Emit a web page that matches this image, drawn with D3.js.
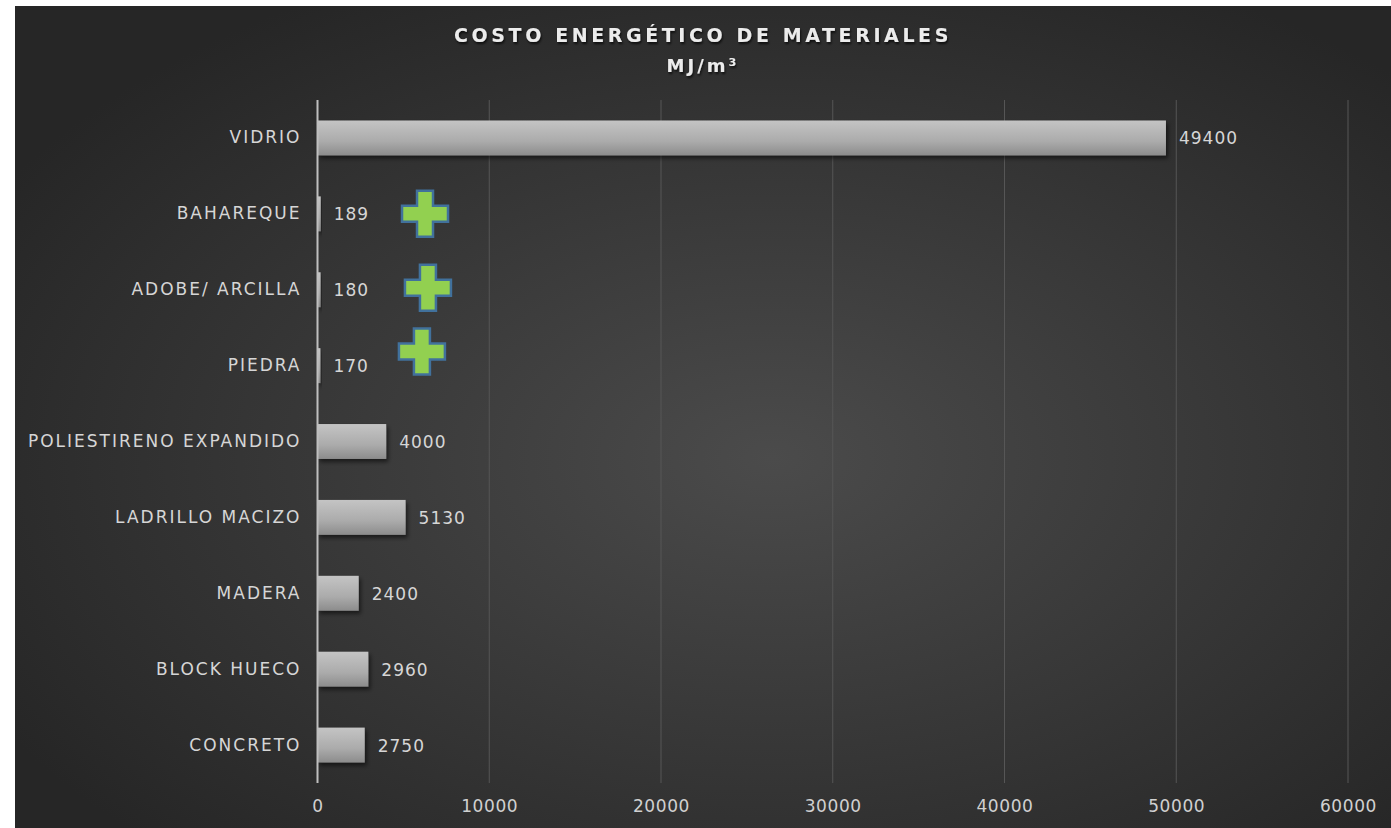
<!DOCTYPE html>
<html>
<head>
<meta charset="utf-8">
<script src="https://cdn.jsdelivr.net/npm/d3@7/dist/d3.min.js"></script>
<style>
  html, body { margin: 0; padding: 0; background: #ffffff; }
  svg { display: block; }
  text { font-family: "DejaVu Sans", "Noto Sans", sans-serif; }
</style>
</head>
<body>
<svg id="chart" width="1391" height="828"></svg>
<script>
// Categories (top to bottom) and embodied energy values in MJ/m³
const categories = ["VIDRIO", "BAHAREQUE", "ADOBE/ ARCILLA", "PIEDRA", "POLIESTIRENO EXPANDIDO",
                    "LADRILLO MACIZO", "MADERA", "BLOCK HUECO", "CONCRETO"];
const values = [49400, 189, 180, 170, 4000, 5130, 2400, 2960, 2750];
const tickValues = [0, 10000, 20000, 30000, 40000, 50000, 60000];
// Highlighted low-energy materials, marked with a plus sign at the given x value
const highlighted = ["BAHAREQUE", "ADOBE/ ARCILLA", "PIEDRA"];
const highlightX = [6260, 6430, 6080];

const svg = d3.select("#chart");
const W = 1391, H = 828;

const defs = svg.append("defs");
const bg = defs.append("radialGradient").attr("id", "bg")
  .attr("cx", "55%").attr("cy", "55%").attr("r", "65%");
bg.append("stop").attr("offset", "0%").attr("stop-color", "#4b4b4b");
bg.append("stop").attr("offset", "100%").attr("stop-color", "#262626");

const barGrad = defs.append("linearGradient").attr("id", "bar")
  .attr("x1", 0).attr("y1", 0).attr("x2", 0).attr("y2", 1);
barGrad.append("stop").attr("offset", "0%").attr("stop-color", "#c4c4c4");
barGrad.append("stop").attr("offset", "60%").attr("stop-color", "#ababab");
barGrad.append("stop").attr("offset", "100%").attr("stop-color", "#8c8c8c");

const shadow = defs.append("filter").attr("id", "shadow")
  .attr("x", "-10%").attr("y", "-30%").attr("width", "130%").attr("height", "180%");
shadow.append("feDropShadow").attr("dx", 2).attr("dy", 3).attr("stdDeviation", 2)
  .attr("flood-color", "#000").attr("flood-opacity", 0.55);

const textShadow = defs.append("filter").attr("id", "tshadow")
  .attr("x", "-5%").attr("y", "-30%").attr("width", "110%").attr("height", "170%");
textShadow.append("feDropShadow").attr("dx", 1).attr("dy", 2).attr("stdDeviation", 1.2)
  .attr("flood-color", "#000").attr("flood-opacity", 0.7);

// Chart background
svg.append("rect").attr("x", 15).attr("y", 6).attr("width", W - 15).attr("height", H - 6)
  .attr("fill", "url(#bg)");

const margin = { left: 317.5, right: 1348, top: 100, bottom: 783 };

const x = d3.scaleLinear().domain([0, 60000]).range([margin.left, margin.right]);
const y = d3.scaleBand().domain(categories).range([margin.top, margin.bottom]).paddingInner(0.54).paddingOuter(0.27);

// Vertical gridlines
svg.append("g").selectAll("line").data(tickValues.slice(1)).join("line")
  .attr("x1", d => x(d)).attr("x2", d => x(d))
  .attr("y1", margin.top).attr("y2", margin.bottom)
  .attr("stroke", "#565656").attr("stroke-width", 1);

// Bars
svg.append("g").selectAll("rect").data(categories).join("rect")
  .attr("x", x(0))
  .attr("y", d => y(d))
  .attr("width", (d, i) => x(values[i]) - x(0))
  .attr("height", y.bandwidth())
  .attr("fill", "url(#bar)")
  .attr("filter", "url(#shadow)");

// Value axis labels
const xAxis = d3.axisBottom(x).tickValues(tickValues).tickSize(0).tickPadding(0).tickFormat(d3.format("d"));
const gx = svg.append("g").attr("transform", `translate(0,${margin.bottom + 17})`).call(xAxis);
gx.select(".domain").remove();
gx.selectAll("text").attr("fill", "#d0d0d0").attr("font-size", 17)
  .attr("letter-spacing", 0.6)
  .attr("dy", "0.71em").style("font-family", "'DejaVu Sans', sans-serif");

// Category axis
const yAxis = d3.axisLeft(y).tickSize(0).tickPadding(16);
const gy = svg.append("g").attr("transform", `translate(${x(0)},0)`).call(yAxis);
gy.select(".domain").remove();
gy.selectAll("text").attr("fill", "#d6d6d6").attr("font-size", 17)
  .attr("letter-spacing", 2)
  .style("font-family", "'DejaVu Sans', sans-serif");

// Axis line at zero
svg.append("line").attr("x1", x(0)).attr("x2", x(0))
  .attr("y1", margin.top).attr("y2", margin.bottom)
  .attr("stroke", "#bfbfbf").attr("stroke-width", 2);

// Data labels
svg.append("g").selectAll("text").data(categories).join("text")
  .attr("x", (d, i) => x(values[i]) + 13)
  .attr("y", d => y(d) + y.bandwidth() / 2)
  .attr("dy", "0.38em")
  .attr("fill", "#d6d6d6").attr("font-size", 17)
  .attr("letter-spacing", 1)
  .text((d, i) => values[i]);

// Plus markers
const plus = "M-8,-23 H8 V-8 H23 V8 H8 V23 H-8 V8 H-23 V-8 H-8 Z";
const yOffsets = [0, -2, -14];
svg.append("g").selectAll("path").data(highlighted).join("path")
  .attr("transform", (d, i) => `translate(${x(highlightX[i])},${y(d) + y.bandwidth() / 2 + yOffsets[i]})`)
  .attr("d", plus)
  .attr("fill", "#92d050").attr("stroke", "#41719c").attr("stroke-width", 2.5);

// Title
const title = svg.append("g").attr("filter", "url(#tshadow)");
title.append("text").attr("x", 703).attr("y", 42).attr("text-anchor", "middle")
  .attr("fill", "#ececec").attr("font-size", 19).attr("font-weight", "bold")
  .attr("letter-spacing", 3.6)
  .text("COSTO ENERGÉTICO DE MATERIALES");
title.append("text").attr("x", 703).attr("y", 72).attr("text-anchor", "middle")
  .attr("fill", "#ececec").attr("font-size", 18).attr("font-weight", "bold")
  .attr("letter-spacing", 3)
  .text("MJ/m³");
</script>
</body>
</html>
